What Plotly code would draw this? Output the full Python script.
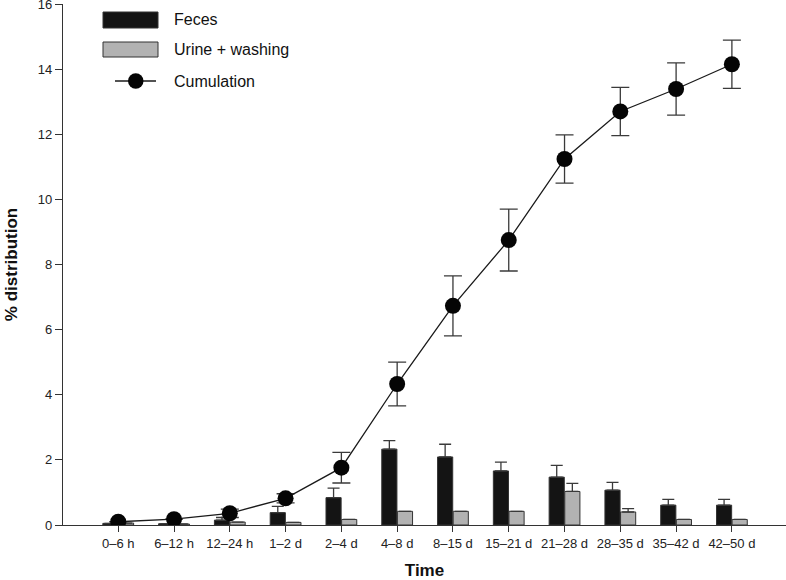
import plotly.graph_objects as go

categories = ["0–6 h", "6–12 h", "12–24 h", "1–2 d", "2–4 d", "4–8 d", "8–15 d",
              "15–21 d", "21–28 d", "28–35 d", "35–42 d", "42–50 d"]
feces = [0.05, 0.04, 0.15, 0.38, 0.84, 2.33, 2.09, 1.66, 1.47, 1.07, 0.61, 0.61]
feces_err = [0.0, 0.0, 0.08, 0.19, 0.29, 0.26, 0.39, 0.27, 0.36, 0.24, 0.18, 0.18]
urine = [0.06, 0.03, 0.09, 0.08, 0.17, 0.42, 0.42, 0.42, 1.03, 0.40, 0.17, 0.17]
urine_err = [0.0, 0.0, 0.0, 0.0, 0.0, 0.0, 0.0, 0.0, 0.25, 0.10, 0.0, 0.0]
cumulation = [0.10, 0.18, 0.36, 0.82, 1.76, 4.33, 6.73, 8.75, 11.24, 12.70, 13.39, 14.15]
cumulation_err = [0.0, 0.0, 0.13, 0.14, 0.47, 0.67, 0.92, 0.95, 0.74, 0.74, 0.80, 0.74]
yticks = [0, 2, 4, 6, 8, 10, 12, 14, 16]

FONT = "Liberation Sans, Arial, sans-serif"
xpos = list(range(len(categories)))

fig = go.Figure()
fig.add_trace(go.Bar(
    x=xpos, y=feces, name="Feces",
    marker=dict(color="#141414", line=dict(color="#333333", width=1)),
    error_y=dict(type="data", array=feces_err, symmetric=False, arrayminus=[0]*len(feces),
                 color="#3a3a3a", thickness=1.3, width=6),
))
fig.add_trace(go.Bar(
    x=xpos, y=urine, name="Urine + washing",
    marker=dict(color="#b2b2b2", line=dict(color="#333333", width=1)),
    error_y=dict(type="data", array=urine_err, symmetric=False, arrayminus=[0]*len(urine),
                 color="#3a3a3a", thickness=1.3, width=6),
))
fig.add_trace(go.Scatter(
    x=xpos, y=cumulation, name="Cumulation", mode="lines+markers",
    line=dict(color="#1a1a1a", width=1.3),
    marker=dict(color="#050505", size=16),
    error_y=dict(type="data", array=cumulation_err, color="#3a3a3a", thickness=1.3, width=9),
))

# plot area in pixels: x 63..786, y 4..525
L, R, T, B = 63, 786, 4, 525
def px(x):
    return (x - L) / (R - L)
def py(y):
    return (B - y) / (B - T)

shapes = [
    dict(type="rect", xref="paper", yref="paper", x0=px(103), x1=px(158), y0=py(28), y1=py(12),
         fillcolor="#141414", line=dict(color="#333333", width=1)),
    dict(type="rect", xref="paper", yref="paper", x0=px(103), x1=px(158), y0=py(57), y1=py(42),
         fillcolor="#b2b2b2", line=dict(color="#333333", width=1)),
    dict(type="line", xref="paper", yref="paper", x0=px(115), x1=px(156), y0=py(81), y1=py(81),
         line=dict(color="#1a1a1a", width=1.3)),
    dict(type="circle", xref="paper", yref="paper", x0=px(128), x1=px(143.5), y0=py(88.7), y1=py(73.3),
         fillcolor="#050505", line=dict(color="#050505", width=0)),
]
annotations = []
for text, yy in [("Feces", 19.5), ("Urine + washing", 49.5), ("Cumulation", 81)]:
    annotations.append(dict(text=text, xref="paper", yref="paper", x=px(172), y=py(yy),
                            xanchor="left", yanchor="middle", showarrow=False,
                            font=dict(size=16, color="#111111", family=FONT)))

fig.update_layout(
    width=786, height=580,
    margin=dict(l=L, r=786 - R, t=T, b=580 - B, autoexpand=False),
    paper_bgcolor="white", plot_bgcolor="white",
    barmode="group", bargap=0.44, bargroupgap=0.03,
    showlegend=False,
    font=dict(family=FONT, color="#222222", size=13),
    shapes=shapes, annotations=annotations,
    xaxis=dict(
        range=[-0.99, 11.97], tickmode="array", tickvals=xpos, ticktext=categories,
        showline=True, linecolor="#333333", linewidth=1.3, ticks="outside", ticklen=6,
        tickcolor="#333333", tickwidth=1.3, showgrid=False, zeroline=False,
        tickfont=dict(size=13, color="#222222"), automargin=False,
        title=dict(text="<b>Time</b>", font=dict(size=17, color="#111111")),
    ),
    yaxis=dict(
        range=[0, 16], tickmode="array", tickvals=yticks,
        showline=True, linecolor="#333333", linewidth=1.3, ticks="outside", ticklen=7,
        tickcolor="#333333", tickwidth=1.3, showgrid=False, zeroline=False,
        tickfont=dict(size=13, color="#222222"), automargin=False,
        ticklabeloverflow="allow",
        title=dict(text="<b>% distribution</b>", font=dict(size=17, color="#111111")),
    ),
)
fig.write_html("out.html", config={"displayModeBar": False},
               post_script="document.body.style.margin='0';document.body.style.overflow='hidden';")
